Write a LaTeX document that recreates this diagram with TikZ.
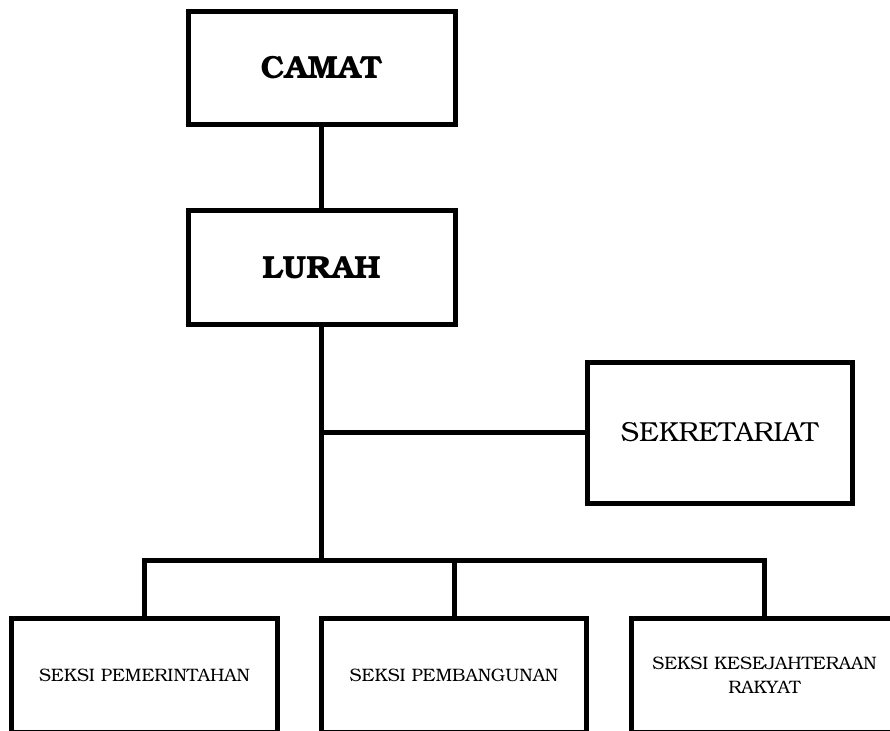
\documentclass[tikz,border=0pt]{standalone}
\usepackage{fontspec}
\setmainfont{TeX Gyre Bonum}
\usepackage{tikz}

\tikzset{
	unit/.style={draw, line width=5pt, inner sep=0pt, minimum width=266pt, minimum height=114pt, align=center},
	link/.style={line width=5pt}
}

\begin{document}
\begin{tikzpicture}[x=1pt,y=-1pt]
% page frame
	\clip (0,0) rectangle (890,730);
% top boxes
	\node[unit, minimum width=267pt, minimum height=113.5pt, font=\bfseries\fontsize{32}{38}\selectfont] (camat) at (321.5,68) {CAMAT};
	\node[unit, minimum width=267pt, font=\bfseries\fontsize{32}{38}\selectfont] (lurah) at (321.5,267.5) {LURAH};
% staff box
	\node[unit, minimum width=265pt, minimum height=141pt, font=\fontsize{27.5}{33}\selectfont] (sekr) at (719.5,432.5) {SEKRETARIAT};
% section boxes
	\node[unit, font=\fontsize{18}{24}\selectfont] (pem) at (144.5,675.5) {SEKSI PEMERINTAHAN};
	\node[unit, minimum width=265pt, font=\fontsize{18}{24}\selectfont] (bang) at (454,675.5) {SEKSI PEMBANGUNAN};
	\node[unit, font=\fontsize{18}{24}\selectfont] (kesra) at (764.5,675.5) {SEKSI KESEJAHTERAAN\\RAKYAT};
% junction points
	\coordinate (staff) at (lurah.south |- sekr.west);
	\coordinate (bus) at (321.5,560.5);
% lines
	\draw[link] (camat.south) -- (lurah.north);
	\draw[link] (lurah.south) -- (bus);
	\draw[link] (staff) -- (sekr.west);
	\draw[link] (pem.north) |- (bus) -| (kesra.north);
	\draw[link] (bang.north) -- (bang.north |- bus);
\end{tikzpicture}
\end{document}
